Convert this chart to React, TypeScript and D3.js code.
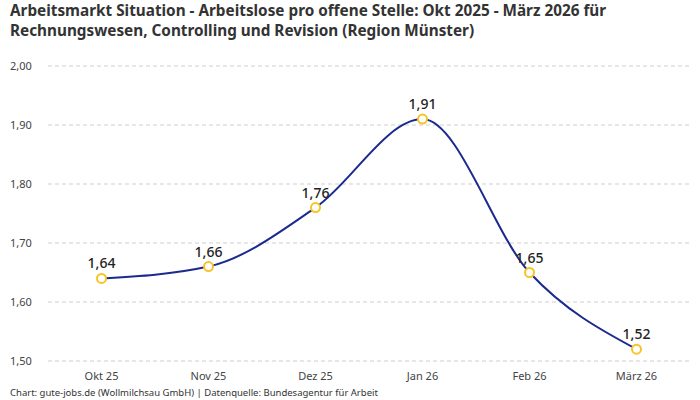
import * as React from "react";
import { scaleLinear, scalePoint, line, curveMonotoneX } from "d3";

const months = ["Okt 25", "Nov 25", "Dez 25", "Jan 26", "Feb 26", "März 26"];
const ratio = [1.64, 1.66, 1.76, 1.91, 1.65, 1.52];
const yTicks = [1.5, 1.6, 1.7, 1.8, 1.9, 2.0];

const titleLines = [
  "Arbeitsmarkt Situation - Arbeitslose pro offene Stelle: Okt 2025 - März 2026 für",
  "Rechnungswesen, Controlling und Revision (Region Münster)",
];
const footer = "Chart: gute-jobs.de (Wollmilchsau GmbH) | Datenquelle: Bundesagentur für Arbeit";

const W = 700;
const H = 400;
const font = "'Noto Sans', sans-serif";

const fmt = (v: number, d: number) => v.toFixed(d).replace(".", ",");

export default function App() {
  const x = scalePoint<string>().domain(months).range([48, 690]).padding(0.5);
  const y = scaleLinear().domain([1.5, 2.0]).range([361, 66]);

  const path = line<number>()
    .x((_, i) => x(months[i]) as number)
    .y((d) => y(d))
    .curve(curveMonotoneX);

  return (
    <svg
      width={W}
      height={H}
      style={{ position: "absolute", left: 0, top: 0, background: "#fff" }}
      fontFamily={font}
    >
      {titleLines.map((t, i) => (
        <text key={i} x={10} y={16 + i * 20} fontSize={15.3} fontWeight={700} fill="#333">
          {t}
        </text>
      ))}

      {yTicks.map((t) => (
        <g key={t}>
          <line
            x1={48}
            x2={690}
            y1={y(t)}
            y2={y(t)}
            stroke="#cfcfcf"
            strokeDasharray="4,3"
          />
          <text x={10} y={y(t)} dy="0.35em" fontSize={11} fill="#444">
            {fmt(t, 2)}
          </text>
        </g>
      ))}

      {months.map((m) => (
        <text key={m} x={x(m)} y={380} textAnchor="middle" fontSize={11} fill="#444">
          {m}
        </text>
      ))}

      <path d={path(ratio) || ""} fill="none" stroke="#1b2a8f" strokeWidth={2} />

      {ratio.map((v, i) => (
        <g key={i}>
          <circle
            cx={x(months[i])}
            cy={y(v)}
            r={4.5}
            fill="#fff"
            stroke="#f7c325"
            strokeWidth={2}
          />
          <text
            x={x(months[i])}
            y={y(v) - 10}
            textAnchor="middle"
            fontSize={14}
            fontWeight={500}
            fill="#222"
          >
            {fmt(v, 2)}
          </text>
        </g>
      ))}

      <text x={10} y={396} fontSize={9.5} fill="#333">
        {footer}
      </text>
    </svg>
  );
}
